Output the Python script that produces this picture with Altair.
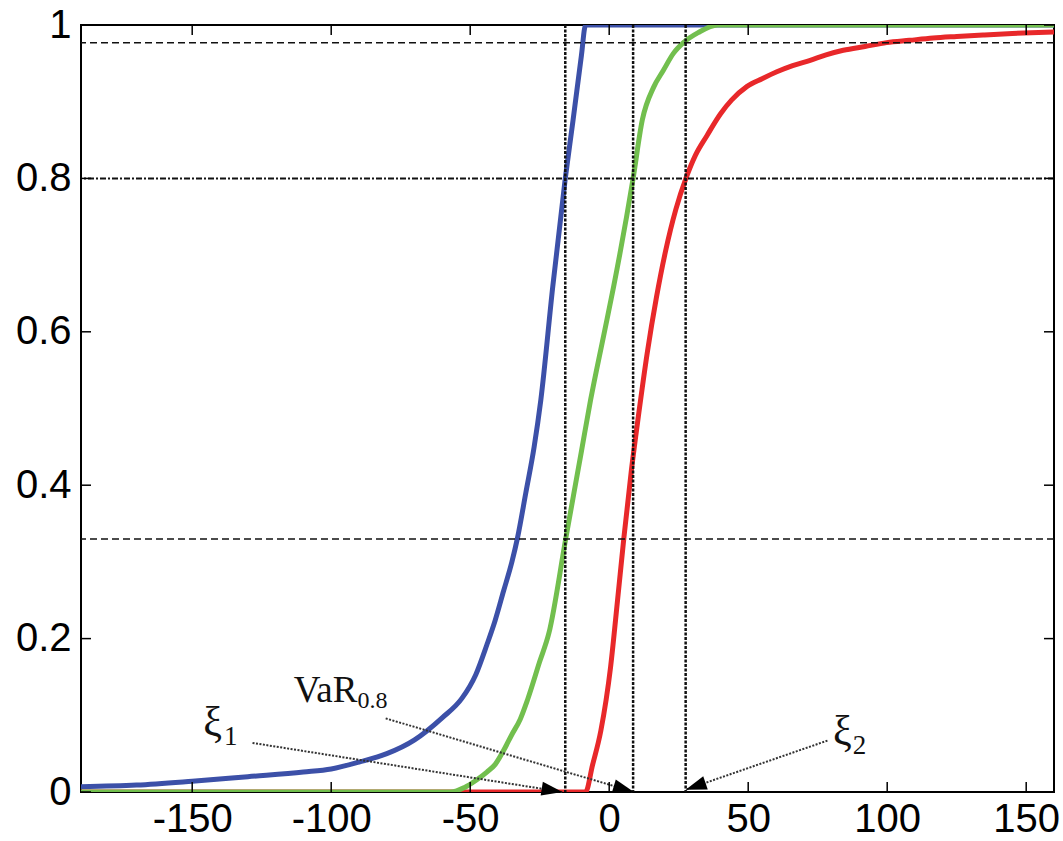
import math
import altair as alt
import pandas as pd

W, H = 973, 767
X_DOM = [-190, 160]
Y_DOM = [0, 1]

# ---- curves ----
blue_x = [-190, -170, -150, -130, -110, -100, -90, -80, -70, -60, -53, -48, -44, -41, -38, -35,
          -33, -30, -27, -24.6, -20.3, -15.8, -13, -10, -8.5, 160]
blue_y = [0.007, 0.009, 0.014, 0.020, 0.026, 0.030, 0.039, 0.050, 0.068, 0.097, 0.122, 0.153, 0.192,
          0.224, 0.262, 0.300, 0.331, 0.39, 0.45, 0.511, 0.659, 0.80, 0.876, 0.96, 1.0, 1.0]

green_x = [-190, -57, -52, -48, -44, -41, -38, -35, -32, -29.4, -25, -21.7, -15.6, -10, -6.7, -2,
           1.6, 8.6, 11.9, 16, 19.5, 23.1, 26.7, 32, 39, 160]
green_y = [0.0, 0.0, 0.006, 0.015, 0.026, 0.036, 0.054, 0.075, 0.095, 0.12, 0.17, 0.207, 0.331, 0.444,
           0.511, 0.595, 0.659, 0.80, 0.876, 0.919, 0.941, 0.963, 0.977, 0.99, 1.0, 1.0]

red_x = [-190, -8.5, -6, -3, 0.5, 3, 5.3, 8, 10.5, 13.7, 17, 20.2, 24, 27.6, 31, 35.2, 40, 44, 49.6,
         55, 60.3, 66, 72.3, 78, 84.2, 92, 99.8, 108, 116.5, 125, 134.5, 145, 160]
red_y = [0.0, 0.0, 0.035, 0.08, 0.163, 0.25, 0.332, 0.42, 0.49, 0.573, 0.645, 0.704, 0.76, 0.80, 0.83,
         0.856, 0.884, 0.902, 0.920, 0.930, 0.939, 0.947, 0.954, 0.961, 0.967, 0.972, 0.977, 0.980,
         0.983, 0.985, 0.987, 0.989, 0.991]

# ---- axes ----
x_ticks = [-150, -100, -50, 0, 50, 100, 150]
y_ticks = [0, 0.2, 0.4, 0.6, 0.8, 1]

# ---- reference lines ----
h_dashed = [0.977, 0.33]
h_dashdot = [0.8]
v_dotted = [-15.8, 8.6, 27.5]

# ---- arrows ----
arrow_x0 = [-128.3, -80.4, 78.5]
arrow_y0 = [0.064, 0.096, 0.067]
arrow_x1 = [-16.8, 8.9, 27.5]
arrow_y1 = [0.0, 0.0, 0.003]

# ---- labels ----
main_text = ["ξ", "VaR", "ξ"]
main_x = [-146.0, -113.5, 80.5]
main_y = [0.073, 0.117, 0.061]
main_size = [42, 37, 42]
sub_text = ["1", "0.8", "2"]
sub_x = [-138.6, -90.5, 87.6]
sub_y = [0.061, 0.109, 0.050]
sub_size = [27, 24, 27]

BLUE, GREEN, RED = "#3c50a8", "#72bf4e", "#e8282a"

xs = alt.Scale(domain=X_DOM, nice=False, zero=False)
ys = alt.Scale(domain=Y_DOM, nice=False, zero=False)

x_axis = alt.Axis(values=x_ticks, labelExpr="datum.value + ''", domain=False, ticks=False, grid=False,
                  labelFont="Liberation Sans", labelFontSize=40, labelColor="black", labelPadding=7,
                  title=None, labelFlush=False, labelOverlap=False)
y_axis = alt.Axis(values=y_ticks, labelExpr="datum.value + ''", domain=False, ticks=False, grid=False,
                  labelFont="Liberation Sans", labelFontSize=40, labelColor="black", labelPadding=10,
                  title=None, labelFlush=False, labelOverlap=False)


def X(field):
    return alt.X(field, scale=xs, axis=x_axis)


def Y(field):
    return alt.Y(field, scale=ys, axis=y_axis)


def curve(xv, yv, color):
    df = pd.DataFrame({"x": xv, "y": yv, "o": list(range(len(xv)))})
    return alt.Chart(df).mark_line(color=color, strokeWidth=5, interpolate="monotone", clip=True).encode(
        x=X("x:Q"), y=Y("y:Q"), order="o:Q")


blue = curve(blue_x, blue_y, BLUE)
red = curve(red_x, red_y, RED)
green = curve(green_x, green_y, GREEN)

hd = alt.Chart(pd.DataFrame({"y": h_dashed})).mark_rule(color="#111", strokeWidth=1.5, strokeDash=[7, 4]).encode(
    y=Y("y:Q"))
hdd = alt.Chart(pd.DataFrame({"y": h_dashdot})).mark_rule(color="#111", strokeWidth=2, strokeDash=[6, 2, 2, 2]).encode(
    y=Y("y:Q"))
vd = alt.Chart(pd.DataFrame({"x": v_dotted})).mark_rule(color="#111", strokeWidth=2.5, strokeDash=[3, 1.5]).encode(
    x=X("x:Q"))

# arrows
kx = W / (X_DOM[1] - X_DOM[0])
ky = H / (Y_DOM[1] - Y_DOM[0])
angles = []
for a, b, c, d in zip(arrow_x0, arrow_y0, arrow_x1, arrow_y1):
    dx = (c - a) * kx
    dy = -(d - b) * ky
    angles.append(math.degrees(math.atan2(dx, -dy)) % 360)
arr_df = pd.DataFrame({"x0": arrow_x0, "y0": arrow_y0, "x1": arrow_x1, "y1": arrow_y1, "angle": angles})

arrow_lines = alt.Chart(arr_df).mark_rule(color="#333", strokeWidth=2, strokeDash=[2, 1.5]).encode(
    x=X("x0:Q"), y=Y("y0:Q"), x2="x1:Q", y2="y1:Q")
arrow_heads = alt.Chart(arr_df).mark_point(
    shape="M0,0L-0.33,1L0.33,1Z", size=1764, filled=True, color="black", opacity=1, strokeWidth=0
).encode(x=X("x1:Q"), y=Y("y1:Q"), angle=alt.Angle("angle:Q", scale=None))

lab_df = pd.DataFrame({"t": main_text, "x": main_x, "y": main_y, "s": main_size})
sub_df = pd.DataFrame({"t": sub_text, "x": sub_x, "y": sub_y, "s": sub_size})
labels = alt.Chart(lab_df).mark_text(font="Liberation Serif", align="left", baseline="alphabetic",
                                     color="#111").encode(
    x=X("x:Q"), y=Y("y:Q"), text="t:N", size=alt.Size("s:Q", scale=None))
subs = alt.Chart(sub_df).mark_text(font="Liberation Serif", align="left", baseline="alphabetic",
                                   color="#111").encode(
    x=X("x:Q"), y=Y("y:Q"), text="t:N", size=alt.Size("s:Q", scale=None))

# inward ticks on all four sides
xt = pd.DataFrame({"v": x_ticks})
yt = pd.DataFrame({"v": y_ticks})
tb = alt.Chart(xt).mark_rule(color="black", strokeWidth=1.5).encode(
    x=X("v:Q"), y=alt.value(H), y2=alt.value(H - 10))
tt = alt.Chart(xt).mark_rule(color="black", strokeWidth=1.5).encode(
    x=X("v:Q"), y=alt.value(0), y2=alt.value(10))
tl = alt.Chart(yt).mark_rule(color="black", strokeWidth=1.5).encode(
    y=Y("v:Q"), x=alt.value(0), x2=alt.value(10))
tr = alt.Chart(yt).mark_rule(color="black", strokeWidth=1.5).encode(
    y=Y("v:Q"), x=alt.value(W - 10), x2=alt.value(W))

chart = alt.layer(
    blue, red, green, hd, hdd, vd, arrow_lines, arrow_heads, labels, subs, tb, tt, tl, tr
).properties(
    width=W, height=H,
    autosize=alt.AutoSizeParams(type="none"),
    padding={"left": 81, "top": 25, "right": 9, "bottom": 49},
    background="white",
).configure_view(stroke="black", strokeWidth=2)

chart.save("out.html", embed_options={"renderer": "svg", "actions": False})
